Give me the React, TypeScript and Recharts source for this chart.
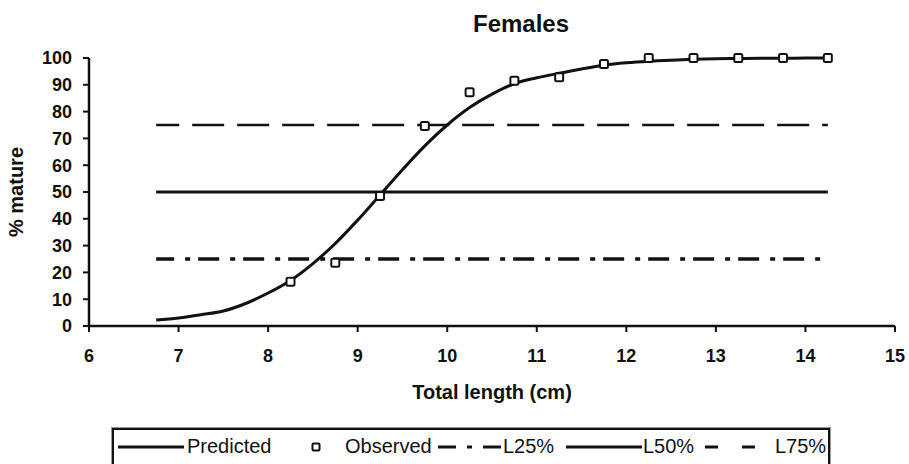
import { ComposedChart, Line, Scatter, XAxis, YAxis, Legend, Label } from 'recharts'

// ─── Data ─────────────────────────────────────────────────────────────────────

const predictedLength = [
  6.75, 7, 7.25, 7.5, 7.75, 8, 8.25, 8.5, 8.75, 9, 9.25, 9.5, 9.75, 10, 10.25, 10.5,
  10.75, 11, 11.25, 11.5, 11.75, 12, 12.25, 12.5, 12.75, 13, 13.25, 13.5, 13.75, 14, 14.25,
]
const predictedPct = [
  2.2, 3.0, 4.2, 5.6, 8.4, 12.3, 17.0, 23.3, 30.8, 39.5, 48.9, 58.3, 67.2, 75.0, 81.5, 86.5,
  90.4, 92.6, 94.3, 95.9, 97.3, 98.2, 98.8, 99.2, 99.5, 99.7, 99.8, 99.9, 99.9, 100, 100,
]

const observedLength = [8.25, 8.75, 9.25, 9.75, 10.25, 10.75, 11.25, 11.75, 12.25, 12.75, 13.25, 13.75, 14.25]
const observedPct = [16.5, 23.6, 48.5, 74.6, 87.2, 91.5, 92.8, 97.8, 100, 100, 100, 100, 100]

const refLength = [6.75, 14.25]
const L25 = 25
const L50 = 50
const L75 = 75

const xTicks = [6, 7, 8, 9, 10, 11, 12, 13, 14, 15]
const yTicks = [0, 10, 20, 30, 40, 50, 60, 70, 80, 90, 100]

const predictedData = predictedLength.map((x, i) => ({ x, pct: predictedPct[i] }))
const observedData = observedLength.map((x, i) => ({ x, pct: observedPct[i] }))
const refData = refLength.map((x) => ({ x, l25: L25, l50: L50, l75: L75 }))

// ─── Styles ───────────────────────────────────────────────────────────────────

const FONT = '"Liberation Sans", Arial, sans-serif'
const tickStyle = { fontSize: 18, fontWeight: 'bold' as const, fill: '#111', fontFamily: FONT }

function SquareMarker({ cx, cy }: { cx?: number; cy?: number }) {
  if (cx == null || cy == null) return null
  return <rect x={cx - 4} y={cy - 4} width={8} height={8} rx={1.5} fill="#fff" stroke="#111" strokeWidth={2} />
}

// legend drawn in page coordinates minus the box origin (114, 430)
function ChartLegend() {
  const ox = 114
  const oy = 430
  const ly = 447 - oy
  const ty = 453 - oy
  const txt = { fontSize: 20, fill: '#111', fontFamily: FONT }
  return (
    <div style={{
      width: 718, height: 44, boxSizing: 'border-box', border: '2px solid #111',
      boxShadow: '0 0 0 1px #999', background: '#fff',
    }}>
      <svg width={714} height={40} style={{ display: 'block' }}>
        <line x1={118 - ox} x2={184 - ox} y1={ly} y2={ly} stroke="#111" strokeWidth={3} />
        <text x={187 - ox} y={ty} {...txt}>Predicted</text>
        <rect x={316 - ox - 3.5} y={ly - 3.5} width={7} height={7} rx={1} fill="#fff" stroke="#111" strokeWidth={2} />
        <text x={345 - ox} y={ty} {...txt}>Observed</text>
        <line x1={438 - ox} x2={502 - ox} y1={ly} y2={ly} stroke="#111" strokeWidth={3} strokeDasharray="18 11 5 11 18" />
        <text x={503 - ox} y={ty} {...txt}>L25%</text>
        <line x1={566 - ox} x2={642 - ox} y1={ly} y2={ly} stroke="#111" strokeWidth={3} />
        <text x={643 - ox} y={ty} {...txt}>L50%</text>
        <line x1={705 - ox} x2={755 - ox} y1={ly} y2={ly} stroke="#111" strokeWidth={3} strokeDasharray="13 24" />
        <text x={775 - ox} y={ty} {...txt}>L75%</text>
      </svg>
    </div>
  )
}

export default function App() {
  return (
    <div style={{ position: 'absolute', left: 0, top: 0, width: 909, height: 464, background: '#fff', fontFamily: FONT }}>
      <div style={{
        position: 'absolute', left: 421, width: 200, top: 10, textAlign: 'center',
        fontSize: 24, fontWeight: 'bold', color: '#111', zIndex: 2,
      }}>
        Females
      </div>
      <ComposedChart width={909} height={464} margin={{ top: 58, right: 14, bottom: 108, left: 0 }}>
        <XAxis
          type="number" dataKey="x" domain={[6, 15]} ticks={xTicks} interval={0}
          allowDataOverflow height={30}
          tick={tickStyle} tickSize={6} tickMargin={17}
          axisLine={{ stroke: '#111', strokeWidth: 2.5 }} tickLine={{ stroke: '#111', strokeWidth: 2 }}
        >
          <Label
            content={({ viewBox }: any) => (
              <text x={viewBox.x + viewBox.width / 2} y={viewBox.y + 73} textAnchor="middle"
                fontSize={20} fontWeight="bold" fill="#111" fontFamily={FONT}>
                Total length (cm)
              </text>
            )}
          />
        </XAxis>
        <YAxis
          type="number" domain={[0, 100]} ticks={yTicks} interval={0} width={89}
          tick={tickStyle} tickSize={6} tickMargin={11}
          axisLine={{ stroke: '#111', strokeWidth: 2.5 }} tickLine={{ stroke: '#111', strokeWidth: 2 }}
        >
          <Label
            content={({ viewBox }: any) => {
              const cx = 23
              const cy = viewBox.y + viewBox.height / 2
              return (
                <text x={cx} y={cy} transform={`rotate(-90, ${cx}, ${cy})`} textAnchor="middle"
                  fontSize={20} fontWeight="bold" fill="#111" fontFamily={FONT}>
                  % mature
                </text>
              )
            }}
          />
        </YAxis>
        <Legend
          layout="horizontal" verticalAlign="middle" align="center"
          wrapperStyle={{ left: 112, top: 428, width: 718, height: 44 }}
          content={() => <ChartLegend />}
        />
        <Line data={refData} dataKey="l25" name="L25%" stroke="#111" strokeWidth={3.5}
          strokeDasharray="21 11 5 8" strokeDashoffset={3} dot={false} isAnimationActive={false} />
        <Line data={refData} dataKey="l50" name="L50%" stroke="#111" strokeWidth={3}
          dot={false} isAnimationActive={false} />
        <Line data={refData} dataKey="l75" name="L75%" stroke="#111" strokeWidth={2.5}
          strokeDasharray="32 13" strokeDashoffset={9} dot={false} isAnimationActive={false} />
        <Line data={predictedData} dataKey="pct" name="Predicted" type="monotone" stroke="#111"
          strokeWidth={3} dot={false} isAnimationActive={false} />
        <Scatter data={observedData} dataKey="pct" name="Observed" shape={<SquareMarker />}
          isAnimationActive={false} />
      </ComposedChart>
    </div>
  )
}
